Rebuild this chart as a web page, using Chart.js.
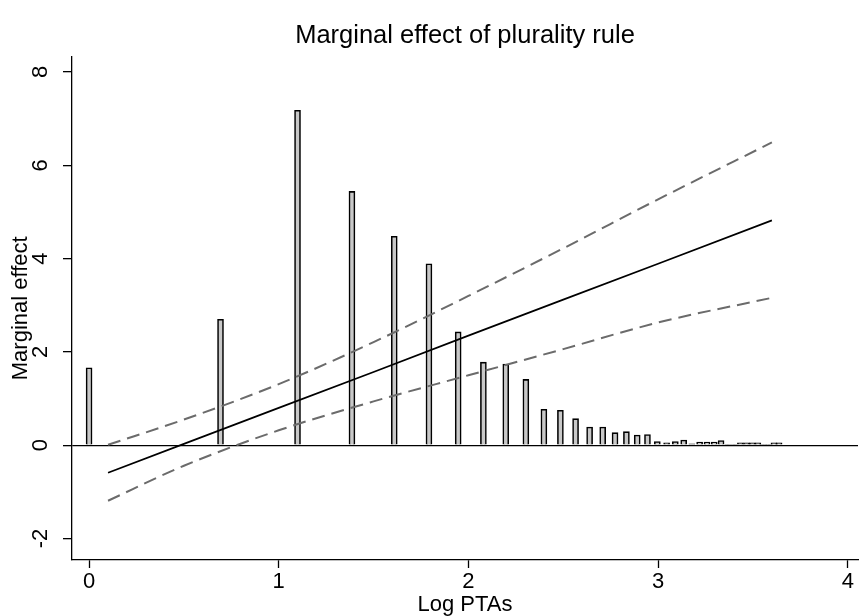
<!DOCTYPE html>
<html>
<head>
<meta charset="utf-8">
<script src="https://cdn.jsdelivr.net/npm/chart.js@4.4.1/dist/chart.umd.min.js"></script>
<style>
  body { margin: 0; background: #fff; }
  canvas { display: block; }
</style>
</head>
<body>
<canvas id="chart" width="859" height="616"></canvas>
<script>
// histogram of log PTAs (bar positions and heights)
const ptaLog = [0, 0.693, 1.099, 1.386, 1.609, 1.792, 1.946, 2.079, 2.197, 2.303,
  2.398, 2.485, 2.565, 2.639, 2.708, 2.773, 2.833, 2.890, 2.944, 2.996,
  3.045, 3.091, 3.135, 3.178, 3.219, 3.258, 3.296, 3.332, 3.367, 3.401,
  3.434, 3.466, 3.497, 3.526, 3.555, 3.584, 3.611, 3.638];
const ptaShare = [1.66, 2.70, 7.18, 5.44, 4.48, 3.89, 2.43, 1.78, 1.74, 1.41,
  0.77, 0.75, 0.57, 0.39, 0.39, 0.27, 0.29, 0.22, 0.23, 0.08,
  0.05, 0.08, 0.11, 0.03, 0.07, 0.07, 0.07, 0.10, 0.02, 0.02,
  0.05, 0.05, 0.05, 0.05, 0.02, 0.02, 0.05, 0.05];

// marginal effect and its confidence band
const effX = [0.1, 0.5, 1.0, 1.5, 2.0, 2.5, 3.0, 3.6];
const effMid = [-0.59, 0.03, 0.80, 1.57, 2.35, 3.12, 3.89, 4.82];
const effHigh = [0.01, 0.55, 1.31, 2.21, 3.20, 4.22, 5.27, 6.49];
const effLow = [-1.19, -0.44, 0.32, 0.94, 1.50, 2.06, 2.63, 3.16];

const xTicks = [0, 1, 2, 3, 4];
const yTicks = [-2, 0, 2, 4, 6, 8];

const font = '"Liberation Sans", Arial, sans-serif';

function pts(xs, ys) {
  return xs.map((x, i) => ({ x: x, y: ys[i] }));
}

// y labels are rotated like Stata's, so they are drawn here
const yLabels = {
  id: 'yLabels',
  afterDraw(chart) {
    const ctx = chart.ctx;
    const ys = chart.scales.y;
    ctx.save();
    ctx.font = '22px ' + font;
    ctx.fillStyle = '#000';
    ctx.textAlign = 'center';
    ctx.textBaseline = 'middle';
    for (let v of yTicks) {
      ctx.save();
      ctx.translate(chart.chartArea.left - 31, ys.getPixelForValue(v));
      ctx.rotate(-Math.PI / 2);
      ctx.fillText(String(v), 0, 0);
      ctx.restore();
    }
    ctx.restore();
  }
};

const ctx = document.getElementById('chart').getContext('2d');
const myChart = new Chart(ctx, {
  type: 'bar',
  data: {
    datasets: [
      {
        type: 'line',
        data: pts(effX, effHigh),
        borderColor: '#6b6b6b',
        borderWidth: 2,
        borderDash: [13, 7],
        pointRadius: 0,
        cubicInterpolationMode: 'monotone',
        order: 0
      },
      {
        type: 'line',
        data: pts(effX, effMid),
        borderColor: '#000',
        borderWidth: 1.7,
        pointRadius: 0,
        tension: 0,
        order: 0
      },
      {
        type: 'line',
        data: pts(effX, effLow),
        borderColor: '#6b6b6b',
        borderWidth: 2,
        borderDash: [13, 7],
        pointRadius: 0,
        cubicInterpolationMode: 'monotone',
        order: 0
      },
      {
        type: 'bar',
        data: pts(ptaLog, ptaShare),
        backgroundColor: '#c8c8c8',
        borderColor: '#000',
        borderWidth: 1.6,
        barThickness: 6,
        order: 1
      }
    ]
  },
  options: {
    responsive: false,
    animation: false,
    layout: { padding: { left: 0, right: 1, top: 0, bottom: 0 } },
    plugins: {
      legend: { display: false },
      tooltip: { enabled: false },
      title: {
        display: true,
        fullSize: false,
        text: 'Marginal effect of plurality rule',
        color: '#000',
        font: { family: font, size: 25.5, weight: 'normal', lineHeight: 1.2 },
        padding: { top: 21, bottom: 5 }
      }
    },
    scales: {
      x: {
        type: 'linear',
        min: -0.09,
        max: 4.054,
        offset: false,
        afterBuildTicks: s => { s.ticks = xTicks.map(v => ({ value: v })); },
        afterFit: s => { s.height = 56; },
        grid: { display: true, offset: false, color: 'transparent', tickColor: '#000', tickLength: 8, tickWidth: 1.3 },
        border: { display: true, color: '#000', width: 1.3 },
        ticks: {
          color: '#000',
          padding: 3,
          maxRotation: 0,
          font: { family: font, size: 22, lineHeight: 1 }
        },
        title: {
          display: true,
          text: 'Log PTAs',
          color: '#000',
          font: { family: font, size: 22, lineHeight: 1 },
          padding: { top: 0, bottom: 0 }
        }
      },
      y: {
        type: 'linear',
        min: -2.46,
        max: 8.33,
        afterBuildTicks: s => { s.ticks = yTicks.map(v => ({ value: v })); },
        afterFit: s => { s.width = 72; },
        grid: {
          color: c => (c.tick && c.tick.value === 0 ? '#000' : 'transparent'),
          lineWidth: 1.3,
          tickColor: '#000',
          tickLength: 9,
          tickWidth: 1.3
        },
        border: { display: true, color: '#000', width: 1.3 },
        ticks: { display: false },
        title: {
          display: true,
          text: 'Marginal effect',
          color: '#000',
          font: { family: font, size: 22, lineHeight: 1 },
          padding: { top: 10, bottom: 0 }
        }
      }
    }
  },
  plugins: [yLabels]
});
</script>
</body>
</html>
